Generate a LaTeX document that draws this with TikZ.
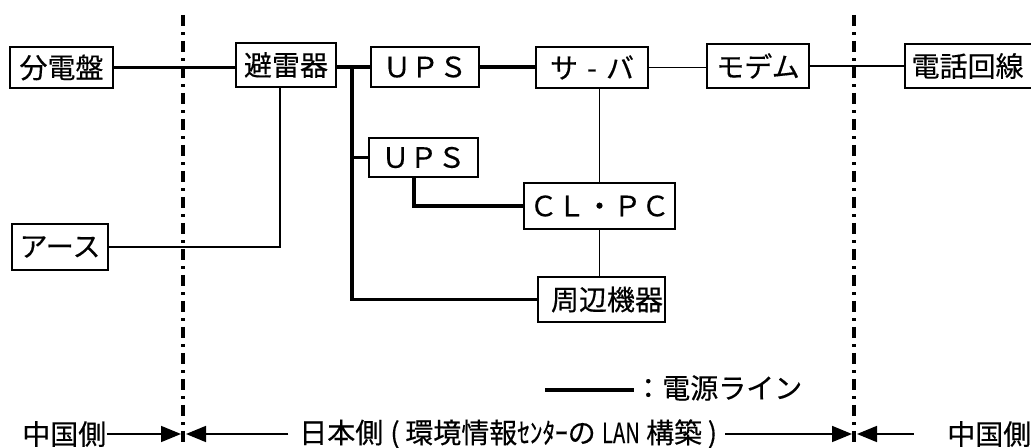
\documentclass[tikz,border=0pt]{standalone}
\usepackage{fontspec}
\setmainfont{Noto Sans CJK JP}[FakeBold=0.35]
\usetikzlibrary{arrows.meta}
\begin{document}
\begin{tikzpicture}[x=0.75pt,y=-0.75pt,
  box/.style={draw,line width=1.4pt,rectangle,inner sep=0pt,font=\fontsize{21}{24}\selectfont},
  lbl/.style={inner sep=0pt,font=\fontsize{21}{24}\selectfont},
  pwr/.style={line width=2.8pt},
  sig/.style={line width=1.2pt},
  sepline/.style={line width=2.6pt,dash pattern=on 8.5pt off 4.5pt on 2pt off 4.5pt},
  arr/.style={line width=1.2pt,-{Triangle[length=15pt,width=12pt]}}]
\useasboundingbox (0,0) rectangle (1031,448);
\clip (0,0) rectangle (1031,448);
% boxes
\node[box,minimum width=77.25pt,minimum height=30.75pt] (bunden) at (61.5,67.5) {分電盤};
\node[box,minimum width=75pt,minimum height=33pt] (hirai) at (286,65) {避雷器};
\node[box,minimum width=81pt,minimum height=30pt] (ups1) at (425,67) {ＵＰＳ};
\node[box,minimum width=84pt,minimum height=30.75pt] (server) at (592,67.5) {サ\makebox[1em]{-}バ};
\node[box,minimum width=76.5pt,minimum height=33pt] (modem) at (758,66) {モデム};
\node[box,anchor=west,minimum height=33pt,text width=120pt,align=left,inner xsep=5pt] (tel) at (904,66) {電話回線};
\node[box,minimum width=81.75pt,minimum height=29.25pt] (ups2) at (423.5,157.5) {ＵＰＳ};
\node[box,minimum width=113.25pt,minimum height=34.5pt] (clpc) at (599.5,206) {ＣＬ・ＰＣ};
\node[box,minimum width=95.25pt,minimum height=33.75pt] (shuhen) at (601.5,299.5) {};
\node[lbl] (shuhentxt) at (607,299.5) {周辺機器};
\node[box,minimum width=72pt,minimum height=34.5pt] (earth) at (60,247) {アース};
% bus coordinates
\coordinate (bustop) at (352,67);
\coordinate (busbot) at (352,299.5);
\coordinate (busmid) at (352,157.5);
\coordinate (upsdrop) at (414,177);
\coordinate (eardrop) at (280,87);
% power lines
\draw[pwr] (bunden.east) -- (bunden.east -| hirai.west);
\draw[pwr] (hirai.east |- ups1.west) -- (ups1.west);
\draw[pwr] (bustop) -- (busbot) -- (shuhen.west);
\draw[pwr] (busmid) -- (ups2.west);
\draw[pwr] (upsdrop) |- (clpc.west);
\draw[pwr] (ups1.east) -- (ups1.east -| server.west);
% signal lines
\draw[sig] (server.east) -- (server.east -| modem.west);
\draw[sig] (modem.east) -- (modem.east -| tel.west);
\draw[sig] (server.south -| clpc.north) -- (clpc.north);
\draw[sig] (clpc.south) -- (clpc.south |- shuhen.north);
\draw[sig] (eardrop) |- (earth.east);
% separators
\coordinate (s1top) at (183,15);
\coordinate (s1bot) at (183,452);
\coordinate (s2top) at (854,15);
\coordinate (s2bot) at (854,452);
\draw[sepline] (s1top) -- (s1bot);
\draw[sepline] (s2top) -- (s2bot);
% legend
\coordinate (lg) at (545,390);
\node[lbl,anchor=west] (lgt) at (634,388) {：電源ライン};
\draw[pwr] (lg) -- (lg -| lgt.west);
% bottom row
\node[lbl,anchor=west] (cnL) at (22,434) {中国側};
\node[lbl,anchor=west] (jp) at (299,434) {日本側\hspace{0.25em}(\hspace{0.2em}環境情報\scalebox{0.9}[1]{ｾﾝﾀｰ}の \scalebox{0.72}[1]{LAN} 構築\hspace{0.2em})};
\node[lbl,anchor=west] (cnR) at (947,434) {中国側};
\coordinate (t1) at (181,434);
\coordinate (t2) at (186,434);
\coordinate (t3) at (852,434);
\coordinate (t4) at (857,434);
\draw[arr] (cnL.east) -- (t1);
\draw[arr,shorten <=8pt] (jp.west) -- (t2);
\draw[arr,shorten <=6pt] (jp.east) -- (t3);
\draw[arr,shorten <=25pt] (cnR.west) -- (t4);
\end{tikzpicture}
\end{document}
